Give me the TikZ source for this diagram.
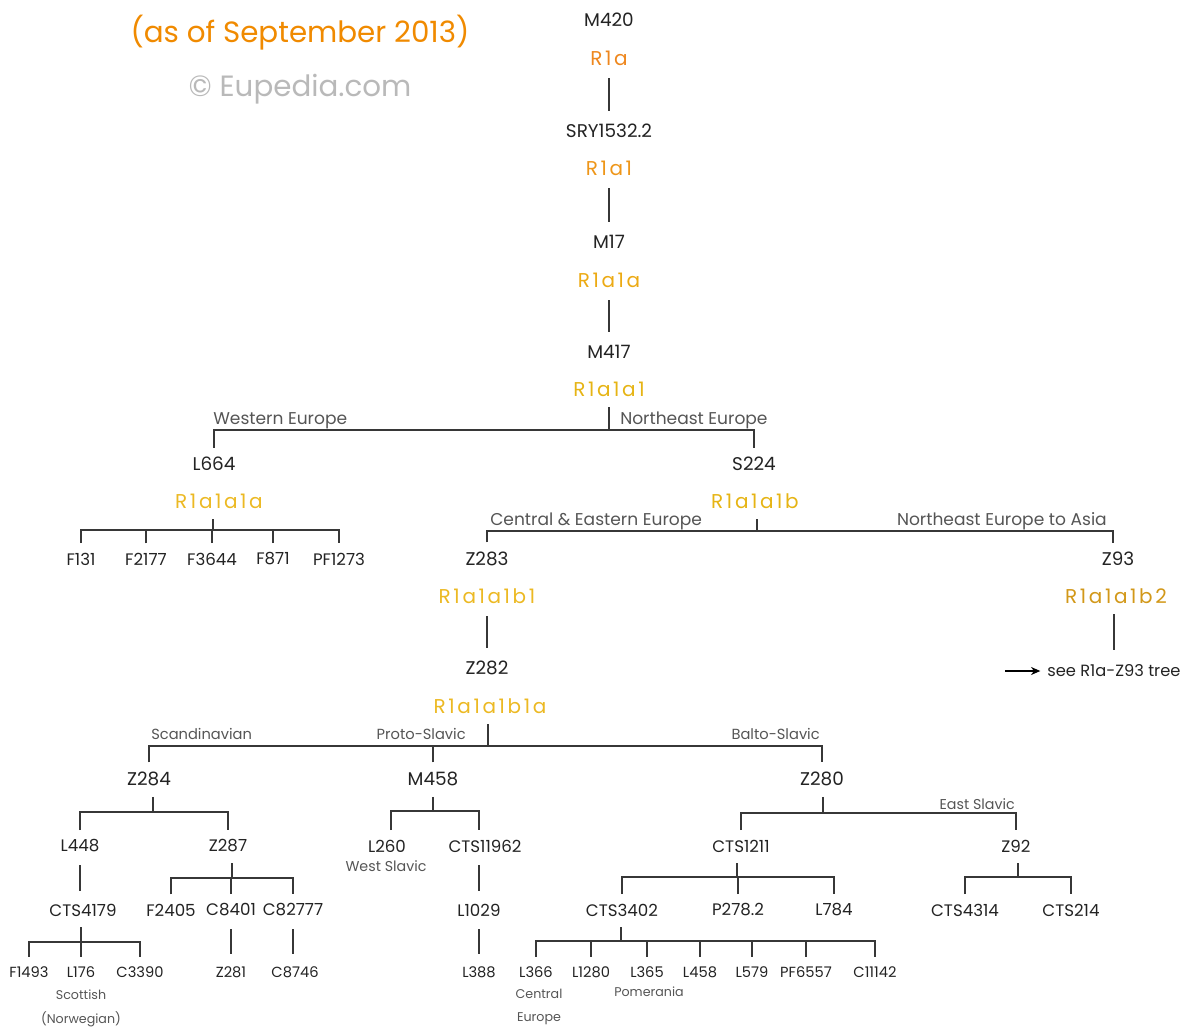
\documentclass[tikz,border=0pt]{standalone}
\usepackage{fontspec}
\setmainfont{Poppins}
\newfontfamily\hapfont[LetterSpace=13]{Poppins}
\usetikzlibrary{arrows.meta}
\definecolor{ti}{RGB}{240, 138, 0}
\definecolor{eu}{RGB}{185, 185, 185}
\definecolor{sn}{RGB}{35, 35, 35}
\definecolor{rg}{RGB}{85, 85, 85}
\definecolor{ln}{RGB}{55, 55, 55}
\definecolor{ha}{RGB}{238, 135, 30}
\definecolor{hb}{RGB}{238, 150, 25}
\definecolor{hc}{RGB}{236, 170, 20}
\definecolor{hd}{RGB}{230, 180, 20}
\definecolor{he}{RGB}{236, 185, 35}
\definecolor{hf}{RGB}{210, 152, 25}

\begin{document}
\begin{tikzpicture}[x=0.75pt,y=-0.75pt, % 1 px = 0.75 pt
  every node/.style={inner sep=0pt},
  snpa/.style={text=sn, font=\fontsize{13.8}{15}\selectfont},
  snpb/.style={text=sn, font=\fontsize{12.5}{14}\selectfont},
  snpc/.style={text=sn, font=\fontsize{11}{13}\selectfont},
  hap/.style={font=\hapfont\fontsize{15}{16}\selectfont},
  reg/.style={text=rg, font=\fontsize{11}{13}\selectfont},
  big/.style={reg, font=\fontsize{12.8}{14}\selectfont},
  small/.style={text=rg, font=\fontsize{9.5}{11}\selectfont},
  br/.style={draw=ln, line width=1.4pt},
  st/.style={br, shorten <=9.5pt, shorten >=9.5pt},
  tk/.style={br, shorten <=8pt},
  sc/.style={br, shorten <=7pt, shorten >=7pt},
  dp/.style={br, shorten <=7pt}]
\useasboundingbox (0,0) rectangle (1189,1027);

% titre
\node[text=ti, font=\fontsize{22}{24}\selectfont] (titre) at (300,33) {(as of September 2013)};
\node[text=eu, font=\fontsize{22}{24}\selectfont] (eupedia) at (300,89) {© Eupedia.com};

% tronc
\node[snpa] (m420) at (609,20) {M420};
\node[hap, text=ha] (r1a) at (609,58) {R1a};
\node[snpa] (sry) at (609,131) {SRY1532.2};
\node[hap, text=hb] (r1a1) at (609,168) {R1a1};
\node[snpa] (m17) at (609,242) {M17};
\node[hap, text=hc] (r1a1a) at (609,280) {R1a1a};
\node[snpa] (m417) at (609,352) {M417};
\node[hap, text=hd] (r1a1a1) at (609,389) {R1a1a1};
\draw[st] (r1a) -- (sry);
\draw[st] (r1a1) -- (m17);
\draw[st] (r1a1a) -- (m417);

% L664 / S224
\coordinate (j1) at (609,430);
\node[snpa] (l664) at (214,464) {L664};
\node[snpa] (s224) at (754,464) {S224};
\node[hap, text=he] (r1a1a1a) at (219,501) {R1a1a1a};
\node[hap, text=hd] (r1a1a1b) at (755,501) {R1a1a1b};
\node[big, anchor=base west] (weu) at (213,424) {Western Europe};
\node[big, anchor=base west] (neu) at (620,424) {Northeast Europe};
\draw[tk] (r1a1a1.south) -- (j1);
\draw[sc] (l664.north) |- (j1) -| (s224.north);

% sous L664
\coordinate (j2) at (213,530);
\foreach \Name/\X/\Label in {f131/81/F131, f2177/146/F2177, f3644/212/F3644, f871/273/F871, pf1273/339/PF1273}
  \node[snpb] (\Name) at (\X,559) {\Label};
\draw[tk] (j2 |- r1a1a1a.south) -- (j2);
\draw[sc] (f131.north) |- (j2) -| (pf1273.north);
\foreach \Name in {f2177,f3644,f871}
  \draw[dp] (\Name.north) -- (\Name.north |- j2);

% sous S224
\coordinate (j3) at (757,531);
\node[snpa] (z283) at (487,559) {Z283};
\node[snpa] (z93) at (1118,559) {Z93};
\node[hap, text=he] (r1a1a1b1) at (487,596) {R1a1a1b1};
\node[hap, text=hf] (r1a1a1b2) at (1116,596) {R1a1a1b2};
\node[big, anchor=base west] (ceu) at (490,525) {Central \& Eastern Europe};
\node[big, anchor=base east] (nea) at (1107,525) {Northeast Europe to Asia};
\draw[tk] (j3 |- r1a1a1b.south) -- (j3);
\draw[sc] (z283.north) |- (j3) -| ([xshift=-3.5pt]z93.north);
\node[snpa] (z282) at (487,668) {Z282};
\node[hap, text=he] (r1a1a1b1a) at (490,706) {R1a1a1b1a};
\draw[st] (r1a1a1b1) -- (z282);
\coordinate (f93) at (1114,650);
\draw[tk] (f93 |- r1a1a1b2.south) -- (f93);
\coordinate (fl) at (1005,671);
\node[text=sn, font=\fontsize{12.2}{14}\selectfont, anchor=west] (voir) at (1047,671) {see R1a-Z93 tree};
\draw[line width=1.4pt, -{Stealth[length=7pt,width=6pt]}, shorten >=5pt] (fl) -- (voir.west);

% sous Z282
\coordinate (j4) at (488,746);
\node[snpa] (z284) at (149,779) {Z284};
\node[snpa] (m458) at (433,779) {M458};
\node[snpa] (z280) at (822,779) {Z280};
\node[reg, anchor=base west] (sca) at (151,739) {Scandinavian};
\node[reg, anchor=base east] (pro) at (466,739) {Proto-Slavic};
\node[reg, anchor=base east] (bal) at (820,739) {Balto-Slavic};
\draw[tk] (j4 |- r1a1a1b1a.south) -- (j4);
\draw[sc] (z284.north) |- (j4) -| (z280.north);
\draw[dp] (m458.north) -- (m458.north |- j4);

% Z284
\coordinate (j5) at (153,812);
\node[snpb] (l448) at (80,846) {L448};
\node[snpb] (z287) at (228,846) {Z287};
\draw[tk] (j5 |- z284.south) -- (j5);
\draw[sc] (l448.north) |- (j5) -| (z287.north);
\node[snpb] (cts4179) at (83,910) {CTS4179};
\draw[st] (l448.south) -- (l448.south |- cts4179.north);
\coordinate (j6) at (81,942);
\foreach \Name/\X/\Label in {f1493/29/F1493, l176/81/L176, c3390/140/C3390}
  \node[snpc] (\Name) at (\X,972) {\Label};
\draw[tk] (j6 |- cts4179.south) -- (j6);
\draw[sc] (f1493.north) |- (j6) -| (c3390.north);
\draw[dp] (l176.north) -- (l176.north |- j6);
\node[small] (sco) at (81,995) {Scottish};
\node[small] (nor) at (81,1019) {(Norwegian)};

\coordinate (j7) at (232,878);
\foreach \Name/\X/\Label in {f2405/171/F2405, c8401/231/C8401, c82777/293/C82777}
  \node[snpb] (\Name) at (\X,910) {\Label};
\draw[tk] (j7 |- z287.south) -- (j7);
\draw[sc] (f2405.north) |- (j7) -| (c82777.north);
\draw[dp] (c8401.north) -- (c8401.north |- j7);
\node[snpc] (z281) at (231,972) {Z281};
\node[snpc] (c8746) at (295,972) {C8746};
\draw[st] (c8401.south) -- (c8401.south |- z281.north);
\draw[st] (c82777.south) -- (c82777.south |- c8746.north);

% M458
\coordinate (j8) at (433,811);
\node[snpb] (l260) at (387,846) {L260};
\node[small, font=\fontsize{10.7}{12}\selectfont] (wsl) at (386,866) {West Slavic};
\node[snpb] (cts11962) at (485,846) {CTS11962};
\node[snpb] (l1029) at (479,910) {L1029};
\node[snpc] (l388) at (479,972) {L388};
\draw[tk] (j8 |- m458.south) -- (j8);
\draw[sc] ([xshift=3pt]l260.north) |- (j8) -| (l1029.north |- cts11962.north);
\draw[st] (l1029.north |- cts11962.south) -- (l1029.north);
\draw[st] (l1029.south) -- (l1029.south |- l388.north);

% Z280
\coordinate (j9) at (823,813);
\node[snpb] (cts1211) at (741,846) {CTS1211};
\node[snpb] (z92) at (1016,846) {Z92};
\node[small, font=\fontsize{10.7}{12}\selectfont, anchor=base east] (esl) at (1015,809) {East Slavic};
\draw[tk] (j9 |- z280.south) -- (j9);
\draw[sc] (cts1211.north) |- (j9) -| (z92.north);

\coordinate (j10) at (737,877);
\foreach \Name/\X/\Label in {cts3402/622/CTS3402, p278/738/P278.2, l784/834/L784}
  \node[snpb] (\Name) at (\X,910) {\Label};
\draw[tk] (j10 |- cts1211.south) -- (j10);
\draw[sc] (cts3402.north) |- (j10) -| (l784.north);
\draw[dp] (p278.north) -- (p278.north |- j10);

\coordinate (j11) at (1018,877);
\node[snpb] (cts4314) at (965,910) {CTS4314};
\node[snpb] (cts214) at (1071,910) {CTS214};
\draw[tk] (j11 |- z92.south) -- (j11);
\draw[sc] (cts4314.north) |- (j11) -| (cts214.north);

% CTS3402
\coordinate (j12) at (621,941);
\foreach \Name/\X/\Label in {l366/536/L366, l1280/591/L1280, l365/647/L365, l458/700/L458, l579/752/L579, pf6557/806/PF6557, c11142/875/C11142}
  \node[snpc] (\Name) at (\X,972) {\Label};
\draw[tk] (j12 |- cts3402.south) -- (j12);
\draw[sc] (l366.north) |- (j12) -| (c11142.north);
\foreach \Name in {l1280,l365,l458,l579,pf6557}
  \draw[dp] (\Name.north) -- (\Name.north |- j12);
\node[small] (cen) at (539,994) {Central};
\node[small] (eur) at (539,1019) {Europe};
\node[small] (pom) at (649,992) {Pomerania};
\end{tikzpicture}
\end{document}
